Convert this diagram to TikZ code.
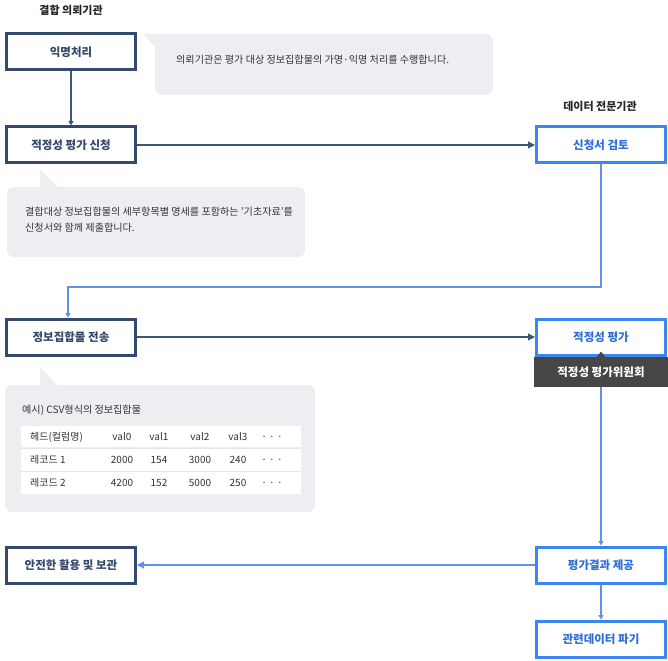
\documentclass[tikz,border=0pt]{standalone}
\usepackage{fontspec}
\setmainfont{Noto Sans CJK KR}
\usetikzlibrary{arrows.meta}
\definecolor{navy}{HTML}{34496B}
\definecolor{navyline}{HTML}{3F5679}
\definecolor{bbox}{HTML}{3A86F2}
\definecolor{btext}{HTML}{2D6FD8}
\definecolor{bline}{HTML}{5C92E8}
\definecolor{bubble}{HTML}{EDEEF1}
\definecolor{band}{HTML}{464646}
\definecolor{txt}{HTML}{333333}
\definecolor{rowsep}{HTML}{E4E6EA}
\tikzset{
  darkbox/.style={draw=navy, line width=3pt, fill=white, minimum width=129pt, minimum height=36pt, inner sep=0pt, text=navy, font=\fontsize{11.5}{13}\selectfont\bfseries},
  bluebox/.style={draw=bbox, line width=3pt, fill=white, minimum width=129pt, minimum height=36pt, inner sep=0pt, text=btext, font=\fontsize{11.5}{13}\selectfont\bfseries},
  head/.style={font=\fontsize{11}{13}\selectfont\bfseries, text=black!85, inner sep=0pt},
  darkline/.style={draw=navyline, line width=1.1pt},
  blueline/.style={draw=bline, line width=1.1pt},
  bigtip/.style={-{Triangle[length=7pt,width=7pt]}},
  smalltip/.style={-{Triangle[length=4.5pt,width=5pt]}},
  btxt/.style={font=\fontsize{10.1}{16}\selectfont, text=txt, inner sep=0pt, anchor=west, align=left},
  ttxt/.style={font=\fontsize{10}{11}\selectfont, text=txt, inner sep=0pt},
  bubblefill/.style={fill=bubble, draw=none}
}
\begin{document}
\begin{tikzpicture}[x=1pt,y=-1pt]
\useasboundingbox (0,0) rectangle (668,660);

% headers
\node[head] (h1) at (71,10) {결합 의뢰기관};
\node[head] (h2) at (600,106) {데이터 전문기관};

% bubble 1
\fill[bubblefill] (143,34) -- (168,34) -- (168,60) -- (156,48) -- cycle;
\fill[bubblefill, rounded corners=7pt] (155,34) rectangle (493,95);
\node[btxt] (b1) at (176,60) {의뢰기관은 평가 대상 정보집합물의 가명·익명 처리를 수행합니다.};

% bubble 2
\fill[bubblefill] (40,170) -- (40,195) -- (66,195) -- (58,187) -- cycle;
\fill[bubblefill, rounded corners=7pt] (7,187) rectangle (305,257);
\node[btxt] (b2) at (25,220) {결합대상 정보집합물의 세부항목별 명세를 포함하는 '기초자료'를\\신청서와 함께 제출합니다.};

% bubble 3
\fill[bubblefill] (40,367) -- (40,393) -- (66,393) -- (57,385) -- cycle;
\fill[bubblefill, rounded corners=7pt] (5,385) rectangle (315,512);
\node[btxt] (b3) at (22,410) {예시) CSV형식의 정보집합물};
\fill[white] (21,426) rectangle (301,447);
\fill[white] (21,449) rectangle (301,471);
\fill[white] (21,472) rectangle (301,494);
\draw[rowsep, line width=0.8pt] (21,448) -- (301,448);
\draw[rowsep, line width=0.8pt] (21,471.5) -- (301,471.5);
\node[ttxt, anchor=west] (t00) at (30,437) {헤드(컬럼명)};
\node[ttxt] (t01) at (122,437) {val0};
\node[ttxt] (t02) at (159,437) {val1};
\node[ttxt] (t03) at (200,437) {val2};
\node[ttxt] (t04) at (238,437) {val3};
\node[ttxt] (t05) at (272,438) {· · ·};
\node[ttxt, anchor=west] (t10) at (30,460) {레코드 1};
\node[ttxt] (t11) at (122,460) {2000};
\node[ttxt] (t12) at (159,460) {154};
\node[ttxt] (t13) at (200,460) {3000};
\node[ttxt] (t14) at (238,460) {240};
\node[ttxt] (t15) at (272,461) {· · ·};
\node[ttxt, anchor=west] (t20) at (30,483) {레코드 2};
\node[ttxt] (t21) at (122,483) {4200};
\node[ttxt] (t22) at (159,483) {152};
\node[ttxt] (t23) at (200,483) {5000};
\node[ttxt] (t24) at (238,483) {250};
\node[ttxt] (t25) at (272,484) {· · ·};

% left boxes
\node[darkbox] (anon) at (71,52) {익명처리};
\node[darkbox] (apply) at (71,145) {적정성 평가 신청};
\node[darkbox] (send) at (71,337) {정보집합물 전송};
\node[darkbox] (use) at (71,565) {안전한 활용 및 보관};

% right boxes
\node[bluebox] (review) at (601,145) {신청서 검토};
\node[bluebox] (eval) at (601,337) {적정성 평가};
\node[fill=band, minimum width=135pt, minimum height=30pt, inner sep=0pt, text=white, font=\fontsize{11.5}{13}\selectfont\bfseries] (band) at (601,372) {적정성 평가위원회};
\fill[band] (596.5,357.5) -- (601,351.5) -- (605.5,357.5) -- cycle;
\node[bluebox] (result) at (601,565) {평가결과 제공};
\node[bluebox] (destroy) at (601,639) {관련데이터 파기};

% connectors
\draw[darkline, smalltip] (anon) -- (apply);
\draw[darkline, bigtip] (apply) -- (review);
\coordinate (k1) at (601,287);
\draw[blueline, smalltip] (review) -- (k1) -| ([xshift=-3pt]send.north);
\draw[darkline, bigtip] (send) -- (eval);
\draw[blueline, smalltip] (band) -- (result);
\draw[blueline, bigtip] (result) -- (use);
\draw[blueline, smalltip] (result) -- (destroy);
\end{tikzpicture}
\end{document}
